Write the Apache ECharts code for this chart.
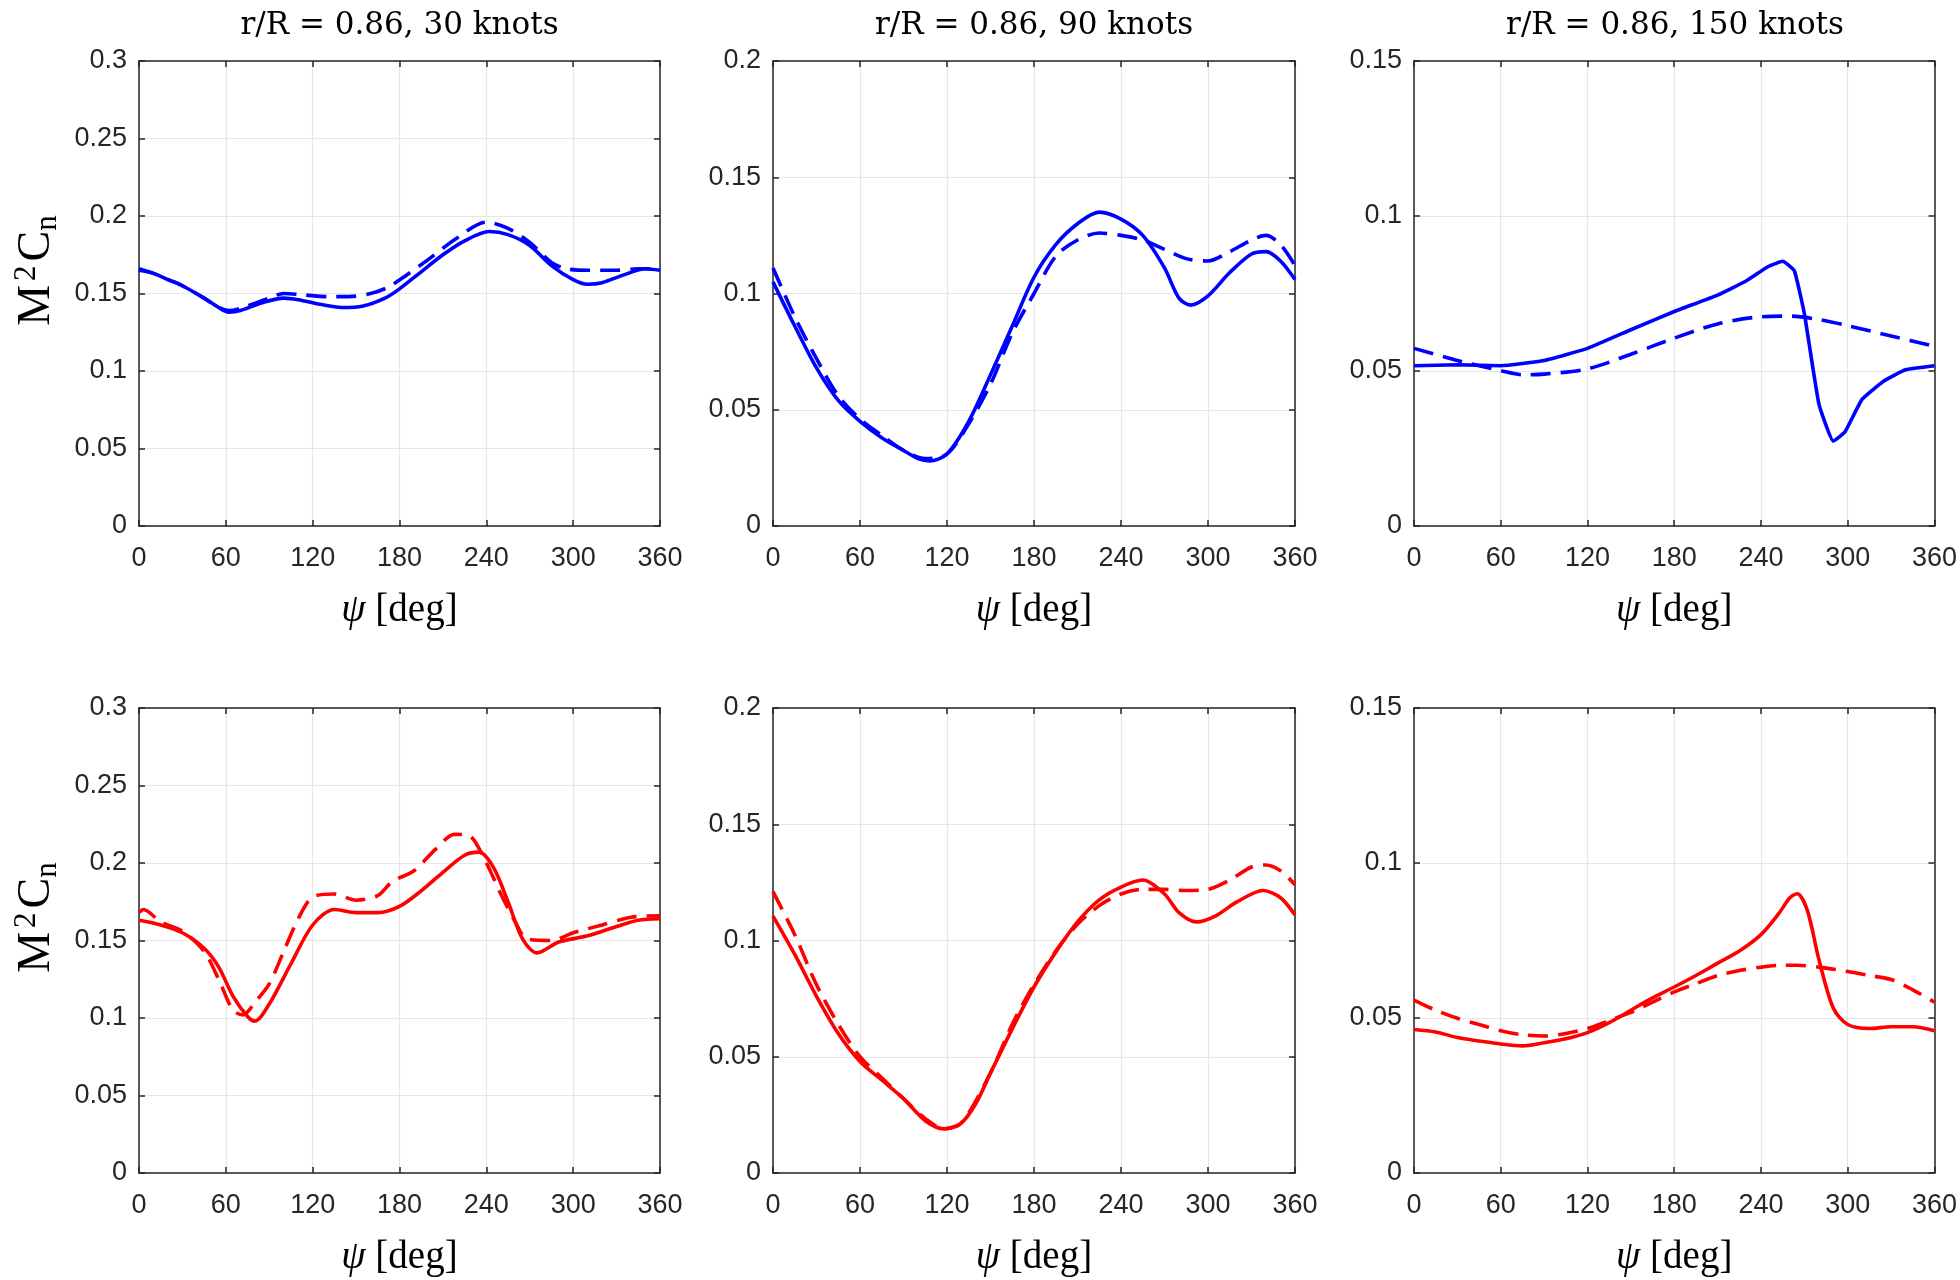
<!DOCTYPE html>
<html>
<head>
<meta charset="utf-8">
<script src="https://cdn.jsdelivr.net/npm/echarts@6/dist/echarts.min.js"></script>
<style>
html,body{margin:0;padding:0;background:#fff;}
#chart{width:1960px;height:1280px;}
</style>
</head>
<body>
<div id="chart"></div>
<script>
// ---- Titles and axis labels ----
const panelTitles = ['r/R = 0.86, 30 knots', 'r/R = 0.86, 90 knots', 'r/R = 0.86, 150 knots'];
const xTicks = { min: 0, max: 360, interval: 60 };
const yMaxByColumn = [0.3, 0.2, 0.15];
const yInterval = 0.05;

// ---- Data: [psi (deg), M^2 Cn] ----
// Row 1 (blue), 30 knots
const blue30Solid = [[0,0.165],[10,0.163],[20,0.159],[30,0.155],[45,0.147],[55,0.141],[62,0.138],[70,0.139],[85,0.144],[100,0.147],[110,0.146],[125,0.143],[140,0.141],[155,0.142],[170,0.147],[180,0.153],[195,0.164],[210,0.175],[225,0.184],[242,0.190],[255,0.188],[270,0.181],[285,0.168],[300,0.159],[310,0.156],[320,0.157],[335,0.162],[350,0.166],[360,0.165]];
const blue30Dashed = [[0,0.166],[10,0.163],[20,0.159],[30,0.155],[45,0.147],[55,0.141],[62,0.139],[75,0.142],[90,0.147],[100,0.150],[115,0.149],[130,0.148],[145,0.148],[160,0.150],[172,0.154],[185,0.162],[200,0.172],[220,0.186],[240,0.196],[255,0.192],[270,0.183],[285,0.170],[295,0.166],[310,0.165],[330,0.165],[345,0.166],[360,0.166]];
// Row 1 (blue), 90 knots
const blue90Solid = [[0,0.105],[15,0.086],[30,0.068],[45,0.054],[60,0.045],[75,0.038],[90,0.0325],[100,0.029],[108,0.028],[120,0.031],[135,0.045],[150,0.065],[165,0.086],[180,0.107],[195,0.121],[210,0.130],[225,0.135],[240,0.132],[255,0.125],[270,0.111],[280,0.098],[288,0.095],[300,0.099],[315,0.109],[330,0.117],[340,0.118],[350,0.114],[360,0.106]];
const blue90Dashed = [[0,0.111],[15,0.090],[30,0.072],[45,0.056],[60,0.046],[75,0.039],[90,0.0325],[105,0.029],[120,0.031],[135,0.044],[150,0.061],[165,0.083],[180,0.100],[195,0.116],[210,0.123],[225,0.126],[240,0.125],[255,0.123],[270,0.119],[285,0.115],[300,0.114],[315,0.118],[330,0.123],[340,0.125],[350,0.121],[360,0.112]];
// Row 1 (blue), 150 knots
const blue150Solid = [[0,0.0517],[30,0.052],[60,0.0517],[90,0.0534],[120,0.0573],[150,0.0633],[180,0.0692],[210,0.0745],[230,0.0791],[245,0.0837],[255,0.0854],[263,0.0824],[270,0.0685],[280,0.0395],[290,0.0274],[298,0.0303],[310,0.0409],[325,0.0468],[340,0.0504],[360,0.0517]];
const blue150Dashed = [[0,0.0573],[30,0.0534],[60,0.0501],[75,0.0488],[90,0.049],[120,0.0507],[150,0.0554],[180,0.0606],[210,0.0652],[240,0.0675],[260,0.0677],[280,0.0666],[300,0.0646],[330,0.0613],[360,0.058]];
// Row 2 (red), 30 knots
const red30Solid = [[0,0.163],[15,0.160],[30,0.155],[45,0.145],[55,0.133],[65,0.114],[75,0.101],[80,0.098],[90,0.109],[105,0.135],[120,0.160],[135,0.170],[150,0.168],[165,0.168],[180,0.172],[195,0.182],[210,0.194],[225,0.205],[235,0.207],[245,0.197],[255,0.175],[265,0.151],[275,0.142],[290,0.149],[310,0.153],[330,0.159],[345,0.163],[360,0.164]];
const red30Dashed = [[0,0.168],[3,0.170],[15,0.162],[30,0.156],[45,0.143],[55,0.125],[65,0.105],[72,0.102],[80,0.110],[90,0.122],[100,0.143],[110,0.164],[120,0.178],[135,0.180],[150,0.176],[165,0.179],[175,0.188],[190,0.195],[205,0.209],[218,0.2185],[228,0.2177],[240,0.200],[250,0.180],[260,0.162],[268,0.151],[285,0.150],[300,0.155],[320,0.160],[340,0.165],[360,0.166]];
// Row 2 (red), 90 knots
const red90Solid = [[0,0.1105],[15,0.094],[30,0.076],[45,0.060],[60,0.048],[75,0.040],[90,0.032],[105,0.0225],[118,0.019],[130,0.0216],[140,0.030],[150,0.043],[165,0.062],[180,0.080],[195,0.095],[210,0.108],[225,0.1175],[240,0.123],[255,0.126],[270,0.120],[280,0.112],[292,0.108],[305,0.1105],[320,0.1166],[338,0.1215],[350,0.1184],[360,0.111]];
const red90Dashed = [[0,0.121],[15,0.1025],[30,0.081],[45,0.064],[60,0.050],[75,0.041],[90,0.032],[105,0.0234],[118,0.019],[130,0.0216],[150,0.043],[165,0.064],[180,0.081],[195,0.0955],[210,0.107],[225,0.115],[240,0.120],[255,0.122],[270,0.122],[285,0.1215],[300,0.122],[315,0.126],[330,0.1316],[340,0.1325],[350,0.130],[360,0.124]];
// Row 2 (red), 150 knots
const red150Solid = [[0,0.0463],[15,0.0455],[30,0.0437],[45,0.0426],[60,0.0416],[75,0.041],[90,0.042],[105,0.0433],[120,0.0453],[135,0.0485],[150,0.0525],[165,0.0565],[180,0.060],[195,0.0637],[210,0.0677],[225,0.0716],[240,0.0769],[252,0.0835],[260,0.0888],[265,0.0901],[272,0.0848],[280,0.069],[290,0.0532],[300,0.0479],[315,0.0466],[330,0.0472],[345,0.0472],[360,0.0459]];
const red150Dashed = [[0,0.0558],[15,0.0525],[30,0.0499],[45,0.0479],[60,0.0459],[75,0.0446],[90,0.0442],[105,0.045],[120,0.0466],[135,0.0492],[150,0.0518],[165,0.0551],[180,0.0584],[195,0.0611],[210,0.0637],[225,0.0653],[240,0.0664],[255,0.067],[265,0.067],[280,0.0664],[300,0.065],[315,0.0637],[330,0.0624],[345,0.0591],[360,0.0551]];

const panels = [
  { solid: blue30Solid, dashed: blue30Dashed, color: '#0000ff', col: 0, row: 0, smooth: 0.3 },
  { solid: blue90Solid, dashed: blue90Dashed, color: '#0000ff', col: 1, row: 0, smooth: 0.3 },
  { solid: blue150Solid, dashed: blue150Dashed, color: '#0000ff', col: 2, row: 0, smooth: 0.12 },
  { solid: red30Solid, dashed: red30Dashed, color: '#ff0000', col: 0, row: 1, smooth: 0.3 },
  { solid: red90Solid, dashed: red90Dashed, color: '#ff0000', col: 1, row: 1, smooth: 0.3 },
  { solid: red150Solid, dashed: red150Dashed, color: '#ff0000', col: 2, row: 1, smooth: 0.3 }
];

// ---- Layout ----
const colLeft = [139, 773, 1414];
const colWidth = [521, 522, 522];
const rowTop = [61, 708];
const rowHeight = 465;

const AXIS_COLOR = '#262626';
const LABEL_COLOR = '#262626';
const SERIF = '"Liberation Serif", "DejaVu Serif", serif';
const TITLE_SERIF = '"DejaVu Serif", "Liberation Serif", serif';
const SANS = '"Liberation Sans", Arial, sans-serif';

const grid = [], xAxis = [], yAxis = [], series = [], graphic = [];

panels.forEach((p, i) => {
  grid.push({ left: colLeft[p.col], top: rowTop[p.row], width: colWidth[p.col], height: rowHeight,
              show: false, containLabel: false });
  const yMax = yMaxByColumn[p.col];
  const showYName = p.col === 0;
  // bottom x axis
  xAxis.push({
    type: 'value', gridIndex: i, position: 'bottom', min: xTicks.min, max: xTicks.max, interval: xTicks.interval,
    axisLine: { show: true, onZero: false, lineStyle: { color: AXIS_COLOR, width: 1.5 } },
    axisTick: { show: true, inside: true, length: 6, lineStyle: { color: AXIS_COLOR, width: 1.5 } },
    axisLabel: { show: true, color: LABEL_COLOR, fontFamily: SANS, fontSize: 27, margin: 19 },
    splitLine: { show: true, lineStyle: { color: '#e6e6e6', width: 1.2 } },
    name: '{i|ψ} [deg]', nameLocation: 'middle', nameGap: 65,
    nameTextStyle: { fontFamily: SERIF, fontSize: 39, color: '#000',
      rich: { i: { fontFamily: SERIF, fontSize: 39, fontStyle: 'italic', color: '#000' } } }
  });
  // top x axis (box + inward ticks)
  xAxis.push({
    type: 'value', gridIndex: i, position: 'top', min: xTicks.min, max: xTicks.max, interval: xTicks.interval,
    axisLine: { show: true, onZero: false, lineStyle: { color: AXIS_COLOR, width: 1.5 } },
    axisTick: { show: true, inside: true, length: 6, lineStyle: { color: AXIS_COLOR, width: 1.5 } },
    axisLabel: { show: false }, splitLine: { show: false }
  });
  // left y axis
  yAxis.push({
    type: 'value', gridIndex: i, position: 'left', min: 0, max: yMax, interval: yInterval,
    axisLine: { show: true, onZero: false, lineStyle: { color: AXIS_COLOR, width: 1.5 } },
    axisTick: { show: true, inside: true, length: 6, lineStyle: { color: AXIS_COLOR, width: 1.5 } },
    axisLabel: { show: true, color: LABEL_COLOR, fontFamily: SANS, fontSize: 27, margin: 12 },
    splitLine: { show: true, lineStyle: { color: '#e6e6e6', width: 1.2 } },
    name: showYName ? '{m|M}{s|2}{m|C}{n|n}' : '', nameLocation: 'middle', nameGap: 76, nameRotate: 90,
    nameTextStyle: { fontFamily: SERIF, fontSize: 46, color: '#000', padding: [0, 0, 0, 46],
      rich: {
        m: { fontFamily: SERIF, fontSize: 46, color: '#000', lineHeight: 52 },
        s: { fontFamily: SERIF, fontSize: 31, color: '#000', lineHeight: 34, verticalAlign: 'top', padding: [0, 4, 0, 4] },
        n: { fontFamily: SERIF, fontSize: 31, color: '#000', lineHeight: 34, verticalAlign: 'bottom' }
      } }
  });
  // right y axis
  yAxis.push({
    type: 'value', gridIndex: i, position: 'right', min: 0, max: yMax, interval: yInterval,
    axisLine: { show: true, onZero: false, lineStyle: { color: AXIS_COLOR, width: 1.5 } },
    axisTick: { show: true, inside: true, length: 6, lineStyle: { color: AXIS_COLOR, width: 1.5 } },
    axisLabel: { show: false }, splitLine: { show: false }
  });

  const xi = i * 2, yi = i * 2;
  series.push({
    type: 'line', xAxisIndex: xi, yAxisIndex: yi, data: p.dashed, showSymbol: false, smooth: 0.3,
    lineStyle: { color: p.color, width: 3.6, type: [20, 10] }, silent: true, z: 3
  });
  series.push({
    type: 'line', xAxisIndex: xi, yAxisIndex: yi, data: p.solid, showSymbol: false, smooth: p.smooth,
    lineStyle: { color: p.color, width: 3.6, type: 'solid' }, silent: true, z: 4
  });
});

panelTitles.forEach((t, c) => {
  graphic.push({
    type: 'text', x: colLeft[c] + colWidth[c] / 2, y: 26,
    style: { text: t, font: '31px ' + TITLE_SERIF, fill: '#000', textAlign: 'center', textVerticalAlign: 'middle' }
  });
});

const chart = echarts.init(document.getElementById('chart'), null, { renderer: 'canvas' });
chart.setOption({ backgroundColor: '#ffffff', animation: false, grid, xAxis, yAxis, series, graphic });
</script>
</body>
</html>
